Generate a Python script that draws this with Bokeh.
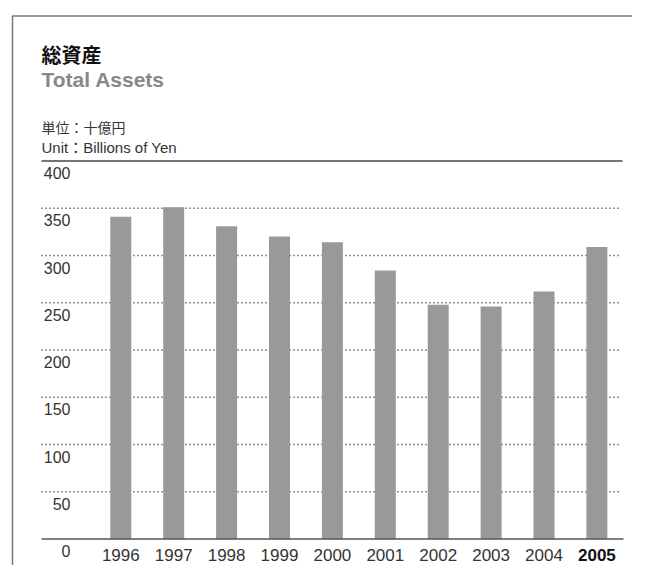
from bokeh.plotting import figure
from bokeh.models import Range1d, Label
from bokeh.core.properties import value
from bokeh.embed import file_html
from bokeh.resources import INLINE

# ---- data ----
years = ["1996", "1997", "1998", "1999", "2000", "2001", "2002", "2003", "2004", "2005"]
assets = [341, 351, 331, 320, 314, 284, 248, 246, 262, 309]
y_ticks = [0, 50, 100, 150, 200, 250, 300, 350, 400]
title_ja = "総資産"
title_en = "Total Assets"
unit_ja = "単位：十億円"
unit_en = "Unit：Billions of Yen"

# ---- layout (pixels on the canvas) ----
W, H = 632, 565
X0PX = 120.3   # canvas x of first bar centre
DXPX = 52.9    # px per category step
Y0PX = 565 - 538.5   # px from canvas bottom for value 0
DYPX = 0.945   # px per unit


def dx(px):
    return (px - X0PX) / DXPX


def dy(py_top):
    return (H - py_top - Y0PX) / DYPX


p = figure(width=W, height=H, output_backend="svg", toolbar_location=None,
           x_range=Range1d(dx(0), dx(W)), y_range=Range1d(dy(H), dy(0)),
           x_axis_location=None, y_axis_location=None, title=None,
           min_border=0, outline_line_color=None)
p.xgrid.visible = False
p.ygrid.visible = False
p.background_fill_color = "white"
p.border_fill_color = "white"

LAT = "'Liberation Sans', 'Noto Sans CJK JP'"
CJK = "'Noto Sans CJK JP'"

# frame (left + top)
p.line(x=[dx(12), dx(12), dx(W + 20)], y=[dy(H + 20), dy(15.5), dy(15.5)],
       line_color="#7a7a7a", line_width=1.5)

# dotted grid lines
mid = y_ticks[1:-1]
p.segment(x0=[dx(41)] * len(mid), x1=[dx(620)] * len(mid), y0=mid, y1=mid,
          line_color="#222222", line_width=1.5, line_dash="1 3")

# bars
idx = list(range(len(years)))
p.vbar(x=idx, top=assets, bottom=0, width=21 / DXPX,
       fill_color="#999999", line_color=None)

# top solid line (400) and baseline (0)
p.segment(x0=[dx(41)], x1=[dx(622)], y0=[y_ticks[-1]], y1=[y_ticks[-1]],
          line_color="#444444", line_width=1.5)
p.segment(x0=[dx(41)], x1=[dx(623)], y0=[y_ticks[0]], y1=[y_ticks[0]],
          line_color="#555555", line_width=1.5)

# y tick labels (below each line)
p.text(x=[dx(70)] * len(y_ticks), y=y_ticks, text=[str(t) for t in y_ticks],
       text_align="right", text_baseline="middle", y_offset=12,
       text_font=value(LAT), text_font_size="16px", text_color="#333333")

# year labels
p.text(x=idx[:-1], y=[0] * (len(years) - 1), text=years[:-1],
       text_align="center", text_baseline="middle", y_offset=16,
       text_font=value(LAT), text_font_size="17px", text_color="#333333")
p.text(x=[idx[-1]], y=[0], text=[years[-1]],
       text_align="center", text_baseline="middle", y_offset=16,
       text_font=value(LAT), text_font_size="17px", text_font_style="bold",
       text_color="#111111")

# titles
p.add_layout(Label(x=41, y=H - 54, x_units="screen", y_units="screen",
                   text=title_ja, text_font=CJK, text_font_size="20px",
                   text_font_style="bold", text_color="#111111",
                   text_baseline="middle"))
p.add_layout(Label(x=41, y=H - 79, x_units="screen", y_units="screen",
                   text=title_en, text_font=LAT, text_font_size="21px",
                   text_font_style="bold", text_color="#888888",
                   text_baseline="middle"))
p.add_layout(Label(x=41, y=H - 126, x_units="screen", y_units="screen",
                   text=unit_ja, text_font=CJK, text_font_size="14px",
                   text_color="#333333", text_baseline="middle"))
p.add_layout(Label(x=41, y=H - 146.6, x_units="screen", y_units="screen",
                   text=unit_en, text_font=LAT, text_font_size="15px",
                   text_color="#333333", text_baseline="middle"))

open("out.html", "w").write(file_html(p, INLINE))
